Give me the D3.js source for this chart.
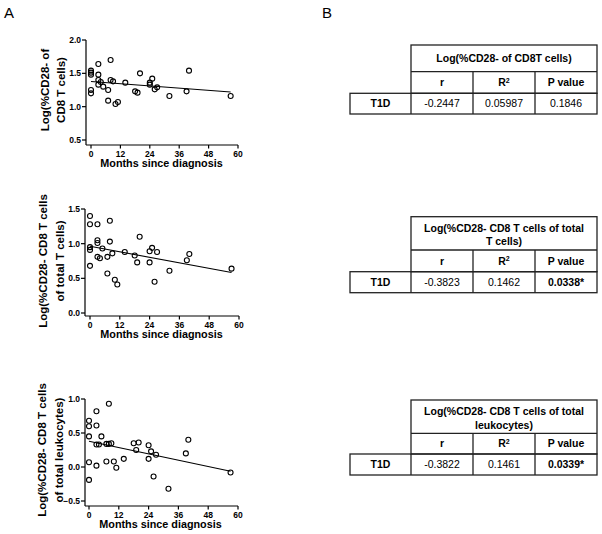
<!DOCTYPE html>
<html><head><meta charset="utf-8">
<script src="https://cdn.jsdelivr.net/npm/d3@7"></script>
<style>
body{margin:0;background:#fff;}
svg{display:block;font-family:"Liberation Sans",Arial,sans-serif;}
</style></head>
<body><svg id="c" width="602" height="534"></svg>
<script>
// ---- data ----
const months = [0,0,0,0,0, 3,3,3,3, 4, 5, 7,7, 8,8, 9, 10, 11, 14, 18, 19, 20, 24,24, 25, 26, 27, 32, 39, 40, 57];
const cd28OfCd8 = [1.54,1.51,1.48,1.25,1.20, 1.64,1.48,1.40,1.33, 1.37, 1.30, 1.25,1.09, 1.70,1.40, 1.38, 1.04, 1.07, 1.36, 1.23, 1.21, 1.50, 1.36,1.33, 1.42, 1.26, 1.29, 1.16, 1.23, 1.54, 1.16];
const cd28OfTotalT = [1.40,1.28,0.95,0.91,0.68, 1.28,1.05,1.01,0.81, 0.79, 0.93, 0.81,0.57, 1.33,1.03, 0.86, 0.48, 0.41, 0.88, 0.83, 0.73, 1.10, 0.89,0.73, 0.94, 0.45, 0.88, 0.61, 0.76, 0.85, 0.64];
const cd28OfLeuko = [0.68,0.60,0.45,0.07,-0.19, 0.82,0.61,0.33,0.02, 0.33, 0.45, 0.34,0.08, 0.93,0.34, 0.35, 0.08, -0.01, 0.12, 0.35, 0.25, 0.36, 0.32,0.12, 0.23, -0.14, 0.18, -0.32, 0.20, 0.40, -0.08];
const xTicks = [0,12,24,36,48,60];
const yTicks1 = [0.5,1.0,1.5,2.0];
const yTicks2 = [0.0,0.5,1.0,1.5];
const yTicks3 = [-0.5,0.0,0.5,1.0];
const yTitles = [["Log(%CD28- of","CD8 T cells)"],["Log(%CD28- CD8 T cells","of total T cells)"],["Log(%CD28- CD8 T cells","of total leukocytes)"]];
const xTitle = "Months since diagnosis";
const tableTitles = [["Log(%CD28- of CD8T cells)"],["Log(%CD28- CD8 T cells of total","T cells)"],["Log(%CD28- CD8 T cells of total","leukocytes)"]];
const rowLabel = "T1D";
const rValues = ["-0.2447","-0.3823","-0.3822"];
const r2Values = ["0.05987","0.1462","0.1461"];
const pValues = ["0.1846","0.0338*","0.0339*"];
const pSignificant = [false,true,true];

const svg = d3.select("#c");
const FONT = '"Liberation Sans",Arial,sans-serif';

// panel letters
svg.append("text").attr("x",4).attr("y",18).attr("font-size",15).text("A");
svg.append("text").attr("x",322).attr("y",18).attr("font-size",15).text("B");

const plots = [
  {vals:cd28OfCd8, yDom:[0.5,2.0], yTicks:yTicks1, xr:[91,238], yr:[140,40], cx:86, cy:145, tl:[45,61]},
  {vals:cd28OfTotalT, yDom:[0.0,1.5], yTicks:yTicks2, xr:[90,239], yr:[313,209], cx:85, cy:316, tl:[43,60]},
  {vals:cd28OfLeuko, yDom:[-0.5,1.0], yTicks:yTicks3, xr:[89,238], yr:[501,399], cx:85, cy:506, tl:[42,59]}
];

plots.forEach((p,i)=>{
  const x = d3.scaleLinear().domain([0,60]).range(p.xr);
  const y = d3.scaleLinear().domain(p.yDom).range(p.yr);
  const g = svg.append("g");
  // axes lines
  g.append("line").attr("x1",p.cx).attr("x2",p.cx).attr("y1",p.yr[1]).attr("y2",p.cy).attr("stroke","#000").attr("stroke-width",1.2);
  g.append("line").attr("x1",p.cx).attr("x2",p.xr[1]).attr("y1",p.cy).attr("y2",p.cy).attr("stroke","#000").attr("stroke-width",1.2);
  // y ticks
  p.yTicks.forEach(t=>{
    g.append("line").attr("x1",p.cx-4).attr("x2",p.cx).attr("y1",y(t)).attr("y2",y(t)).attr("stroke","#000").attr("stroke-width",1.2);
    g.append("text").attr("x",p.cx-5).attr("y",y(t)).attr("dy","0.35em").attr("text-anchor","end")
      .attr("font-size",8.5).attr("font-weight","bold").text(d3.format(".1f")(t));
  });
  // x ticks
  xTicks.forEach(t=>{
    g.append("line").attr("x1",x(t)).attr("x2",x(t)).attr("y1",p.cy).attr("y2",p.cy+3.5).attr("stroke","#000").attr("stroke-width",1.2);
    g.append("text").attr("x",x(t)).attr("y",p.cy+11.5).attr("text-anchor","middle")
      .attr("font-size",8.5).attr("font-weight","bold").text(t);
  });
  // x title
  g.append("text").attr("x",(p.xr[0]+p.xr[1])/2 - 3).attr("y",p.cy+22).attr("text-anchor","middle")
    .attr("font-size",10.8).attr("font-weight","bold").text(xTitle);
  // y title
  const yc = (p.yr[0]+p.yr[1])/2;
  yTitles[i].forEach((ln,j)=>{
    g.append("text").attr("transform",`translate(${p.tl[j]+4},${yc}) rotate(-90)`).attr("text-anchor","middle")
      .attr("font-size",11.5).attr("font-weight","bold").text(ln);
  });
  // regression
  const n = months.length;
  const mx = d3.mean(months), my = d3.mean(p.vals);
  let sxy=0,sxx=0;
  for(let k=0;k<n;k++){sxy+=(months[k]-mx)*(p.vals[k]-my); sxx+=(months[k]-mx)**2;}
  const slope = sxy/sxx, icpt = my - slope*mx;
  const x0 = d3.min(months), x1 = d3.max(months);
  g.append("line").attr("x1",x(x0)).attr("x2",x(x1)).attr("y1",y(icpt+slope*x0)).attr("y2",y(icpt+slope*x1))
    .attr("stroke","#000").attr("stroke-width",1.1);
  // points
  g.selectAll("circle").data(months.map((m,k)=>[m,p.vals[k]])).join("circle")
    .attr("cx",d=>x(d[0])).attr("cy",d=>y(d[1])).attr("r",2.5)
    .attr("fill","none").attr("stroke","#000").attr("stroke-width",1.1);
});

// tables
const tableTops = [[45,71.7,93.3,114],[216.7,250,271.7,292.7],[400,433.3,454,475]];
const cols = [411,473,535,597];
const labelLeft = 350;
const headerLabels = ["r","R","P value"];
tableTops.forEach((tt,i)=>{
  const g = svg.append("g");
  const st = (sel)=>sel.attr("fill","none").attr("stroke","#222").attr("stroke-width",1.3);
  st(g.append("rect").attr("x",cols[0]).attr("y",tt[0]).attr("width",cols[3]-cols[0]).attr("height",tt[2]-tt[0]));
  st(g.append("line").attr("x1",cols[0]).attr("x2",cols[3]).attr("y1",tt[1]).attr("y2",tt[1]));
  st(g.append("rect").attr("x",labelLeft).attr("y",tt[2]).attr("width",cols[3]-labelLeft).attr("height",tt[3]-tt[2]));
  [1,2].forEach(c=>st(g.append("line").attr("x1",cols[c]).attr("x2",cols[c]).attr("y1",tt[1]).attr("y2",tt[3])));
  st(g.append("line").attr("x1",cols[0]).attr("x2",cols[0]).attr("y1",tt[2]).attr("y2",tt[3]));
  // header title
  const hc = (cols[0]+cols[3])/2;
  const lines = tableTitles[i];
  if(lines.length===1){
    g.append("text").attr("x",hc).attr("y",(tt[0]+tt[1])/2).attr("dy","0.35em").attr("text-anchor","middle")
      .attr("font-size",10.5).attr("font-weight","bold").text(lines[0]);
  } else {
    lines.forEach((ln,j)=>{
      g.append("text").attr("x",hc).attr("y",tt[0]+11.8+j*13.2).attr("dy","0.35em").attr("text-anchor","middle")
        .attr("font-size",10.5).attr("font-weight","bold").text(ln);
    });
  }
  // column headers
  const r2y = (tt[1]+tt[2])/2;
  headerLabels.forEach((h,c)=>{
    const t = g.append("text").attr("x",(cols[c]+cols[c+1])/2).attr("y",r2y).attr("dy","0.35em").attr("text-anchor","middle")
      .attr("font-size",10.5).attr("font-weight","bold");
    if(h==="R"){ t.append("tspan").text("R"); t.append("tspan").attr("font-size",7).attr("dy","-0.5em").text("2"); }
    else t.text(h);
  });
  // values row
  const r3y = (tt[2]+tt[3])/2;
  g.append("text").attr("x",(labelLeft+cols[0])/2).attr("y",r3y).attr("dy","0.35em").attr("text-anchor","middle")
    .attr("font-size",10.5).attr("font-weight","bold").text(rowLabel);
  [rValues[i],r2Values[i],pValues[i]].forEach((v,c)=>{
    g.append("text").attr("x",(cols[c]+cols[c+1])/2).attr("y",r3y).attr("dy","0.35em").attr("text-anchor","middle")
      .attr("font-size",10.5).attr("font-weight",(c===2&&pSignificant[i])?"bold":"normal").text(v);
  });
});
</script></body></html>
